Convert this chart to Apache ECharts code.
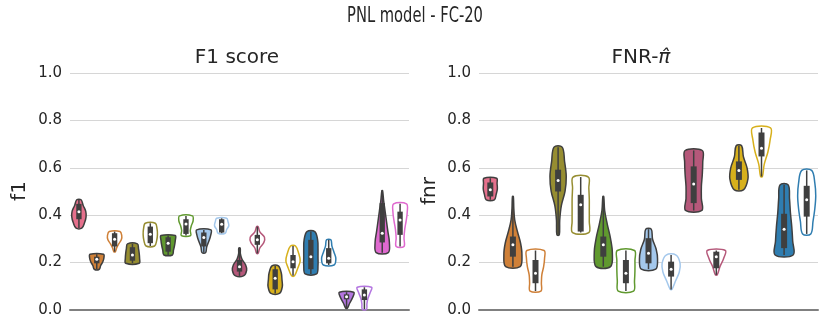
<!DOCTYPE html>
<html>
<head>
<meta charset="utf-8">
<script src="https://cdn.jsdelivr.net/npm/echarts@6/dist/echarts.min.js"></script>
<style>
  html, body { margin: 0; padding: 0; background: #fff; }
  #main { width: 830px; height: 332px; }
</style>
</head>
<body>
<div id="main"></div>
<script>
// violin groups (hue + filled / hollow variant)
const f1Groups = ['pink', 'orange', 'orange', 'olive', 'olive', 'green', 'green', 'lightblue', 'lightblue',
  'mauve', 'mauve', 'gold', 'gold', 'blue', 'blue', 'purple', 'purple', 'magenta', 'magenta'];
const f1Kind = ['full', 'full', 'hollow', 'full', 'hollow', 'full', 'hollow', 'full', 'hollow',
  'full', 'hollow', 'full', 'hollow', 'full', 'hollow', 'full', 'hollow', 'full', 'hollow'];
const f1Min = [0.345, 0.172, 0.246, 0.197, 0.270, 0.232, 0.314, 0.242, 0.324, 0.144, 0.239, 0.070, 0.144, 0.152, 0.190, 0.007, 0.003, 0.242, 0.268];
const f1Q1  = [0.383, 0.197, 0.268, 0.208, 0.282, 0.246, 0.321, 0.268, 0.327, 0.162, 0.275, 0.087, 0.176, 0.172, 0.197, 0.045, 0.042, 0.285, 0.317];
const f1Med = [0.415, 0.214, 0.299, 0.232, 0.320, 0.282, 0.363, 0.306, 0.362, 0.183, 0.296, 0.134, 0.204, 0.225, 0.218, 0.056, 0.063, 0.324, 0.380];
const f1Q3  = [0.448, 0.225, 0.324, 0.265, 0.352, 0.307, 0.383, 0.327, 0.383, 0.211, 0.317, 0.172, 0.232, 0.296, 0.261, 0.066, 0.087, 0.451, 0.415];
const f1Max = [0.465, 0.235, 0.331, 0.279, 0.366, 0.314, 0.397, 0.338, 0.387, 0.261, 0.352, 0.186, 0.270, 0.331, 0.296, 0.075, 0.096, 0.504, 0.448];
// relative density, from min (first) to max (last)
const f1Density = [
  [0.4, 0.8, 1.0, 0.95, 0.6, 0.3],
  [0.35, 0.55, 0.85, 1.0, 0.95],
  [0.1, 0.3, 0.6, 0.95, 1.0, 0.75],
  [0.95, 1.0, 0.95, 0.85, 0.7],
  [0.6, 0.9, 1.0, 0.95, 0.7],
  [0.6, 0.75, 0.9, 1.0, 1.0],
  [0.65, 0.6, 0.75, 1.0, 0.9],
  [0.25, 0.4, 0.7, 0.95, 1.0],
  [0.5, 0.7, 1.0, 0.9, 0.7],
  [0.55, 1.0, 0.85, 0.35, 0.12, 0.1],
  [0.1, 0.35, 0.9, 1.0, 0.35, 0.1],
  [0.6, 1.0, 0.95, 0.85, 0.45],
  [0.2, 0.65, 1.0, 0.8, 0.35],
  [0.8, 1.0, 1.0, 1.0, 0.95, 0.55],
  [0.75, 1.0, 0.75, 0.45, 0.3],
  [0.1, 0.45, 0.85, 1.0],
  [0.3, 0.35, 0.5, 0.8, 1.0],
  [0.85, 1.0, 0.8, 0.6, 0.4, 0.2, 0.05],
  [0.55, 0.55, 0.65, 0.85, 1.0, 0.9]
];

const fnrGroups = ['pink', 'orange', 'orange', 'olive', 'olive', 'green', 'green', 'lightblue', 'lightblue',
  'mauve', 'mauve', 'gold', 'gold', 'blue', 'blue'];
const fnrKind = ['full', 'full', 'hollow', 'full', 'hollow', 'full', 'hollow', 'full', 'hollow',
  'full', 'hollow', 'full', 'hollow', 'full', 'hollow'];
const fnrMin = [0.465, 0.183, 0.080, 0.317, 0.327, 0.183, 0.080, 0.172, 0.087, 0.420, 0.148, 0.507, 0.563, 0.232, 0.321];
const fnrQ1  = [0.479, 0.225, 0.113, 0.500, 0.331, 0.225, 0.113, 0.197, 0.141, 0.451, 0.176, 0.549, 0.648, 0.261, 0.394];
const fnrMed = [0.507, 0.275, 0.155, 0.546, 0.444, 0.275, 0.155, 0.239, 0.172, 0.532, 0.225, 0.589, 0.683, 0.341, 0.465];
const fnrQ3  = [0.538, 0.310, 0.211, 0.592, 0.486, 0.310, 0.211, 0.303, 0.204, 0.606, 0.246, 0.627, 0.749, 0.406, 0.524];
const fnrMax = [0.556, 0.479, 0.251, 0.687, 0.561, 0.479, 0.251, 0.341, 0.232, 0.673, 0.251, 0.693, 0.768, 0.528, 0.589];
const fnrDensity = [
  [0.45, 0.65, 0.78, 0.75, 0.7],
  [0.8, 1.0, 0.85, 0.5, 0.2, 0.1, 0.05],
  [0.6, 0.65, 0.7, 0.9, 1.0, 0.95],
  [0.13, 0.18, 0.36, 0.77, 0.9, 0.72, 0.45],
  [0.9, 0.95, 0.95, 0.95, 0.9, 0.85],
  [0.8, 1.0, 0.8, 0.45, 0.15, 0.05],
  [0.85, 0.95, 1.0, 1.0, 0.95],
  [0.8, 1.0, 0.85, 0.45, 0.3],
  [0.1, 0.5, 0.9, 1.0, 0.55],
  [0.9, 0.85, 0.85, 0.95, 1.0, 0.95],
  [0.1, 0.4, 0.8, 1.0],
  [0.5, 1.0, 0.9, 0.5, 0.3],
  [0.1, 0.3, 0.7, 0.95, 1.0],
  [1.0, 0.95, 0.85, 0.7, 0.6, 0.45],
  [0.45, 0.7, 0.9, 1.0, 0.9, 0.55]
];

const yTicks = [0, 0.2, 0.4, 0.6, 0.8, 1.0];

const hueColor = {
  pink: '#e5708c', orange: '#cf8038', olive: '#968d31', green: '#60992f', lightblue: '#a4c8ec',
  mauve: '#b5587a', gold: '#d7b01c', blue: '#2f7db0', purple: '#b476e0', magenta: '#df69cf'
};
const edge = '#3f3f3f';

function makeData(mn, q1, md, q3, mx) {
  return mn.map((v, i) => [i, v, q1[i], md[i], q3[i], mx[i]]);
}

function violin(density, groups, kind) {
  return function (params, api) {
    const i = params.dataIndex;
    const x = api.coord([api.value(0), 0])[0];
    const band = api.size([1, 0])[0];
    const half = band * 0.4;
    const lo = api.value(1), hi = api.value(5);
    const prof = density[i];
    const n = prof.length;
    const right = [], left = [];
    for (let k = 0; k < n; k++) {
      const v = lo + (hi - lo) * k / (n - 1);
      const y = api.coord([0, v])[1];
      right.push([x + prof[k] * half, y]);
      left.unshift([x - prof[k] * half, y]);
    }
    const col = hueColor[groups[i]];
    const full = kind[i] === 'full';
    const yMin = api.coord([0, lo])[1], yMax = api.coord([0, hi])[1];
    const yQ1 = api.coord([0, api.value(2)])[1], yQ3 = api.coord([0, api.value(4)])[1];
    const yMed = api.coord([0, api.value(3)])[1];
    const bw = Math.min(6, band * 0.3);
    return {
      type: 'group',
      children: [
        {
          type: 'polygon',
          shape: { points: right.concat(left), smooth: 0.35 },
          style: { fill: full ? col : '#ffffff', stroke: full ? edge : col, lineWidth: 1.5 }
        },
        { type: 'line', shape: { x1: x, y1: yMin, x2: x, y2: yMax }, style: { stroke: edge, lineWidth: 1.5 } },
        { type: 'rect', shape: { x: x - bw / 2, y: yQ3, width: bw, height: yQ1 - yQ3 }, style: { fill: edge } },
        { type: 'circle', shape: { cx: x, cy: yMed, r: 1.5 }, style: { fill: '#ffffff' } }
      ]
    };
  };
}

const font = '"DejaVu Sans", sans-serif';

function yAxis(idx) {
  return {
    type: 'value', gridIndex: idx, min: 0, max: 1, interval: 0.2,
    axisLine: { show: false }, axisTick: { show: false },
    axisLabel: {
      color: '#262626', fontSize: 15, fontFamily: font, margin: 8,
      formatter: v => yTicks.includes(Math.round(v * 10) / 10) ? v.toFixed(1) : ''
    },
    splitLine: { lineStyle: { color: '#d6d6d6', width: 1 } }
  };
}

function xAxis(idx, n) {
  return {
    type: 'category', gridIndex: idx, data: Array.from({ length: n }, (_, i) => String(i)),
    axisLabel: { show: false }, axisTick: { show: false },
    axisLine: { lineStyle: { color: '#808080', width: 2 } }
  };
}

const chart = echarts.init(document.getElementById('main'), null, { renderer: 'canvas' });
chart.setOption({
  animation: false,
  backgroundColor: '#ffffff',
  grid: [
    { left: 70, top: 73, width: 339, height: 237 },
    { left: 479, top: 73, width: 339, height: 237 }
  ],
  xAxis: [xAxis(0, f1Min.length), xAxis(1, fnrMin.length)],
  yAxis: [yAxis(0), yAxis(1)],
  graphic: [
    { type: 'text', x: 415, y: 17, scaleX: 0.7, originX: 0, originY: 0, style: { text: 'PNL model - FC-20', fontSize: 21, fontFamily: font, fill: '#262626', align: 'center', verticalAlign: 'middle' } },
    { type: 'text', x: 237, y: 58, style: { text: 'F1 score', fontSize: 20, fontFamily: font, fill: '#262626', align: 'center', verticalAlign: 'middle' } },
    { type: 'text', x: 641, y: 58, style: {
      text: '{a|FNR-}{b|π̂}', fontSize: 20, fontFamily: font, fill: '#262626', align: 'center', verticalAlign: 'middle',
      rich: { a: { fontSize: 20, fontFamily: font, fill: '#262626' }, b: { fontSize: 20, fontFamily: font, fontStyle: 'italic', fill: '#262626' } }
    } },
    { type: 'text', x: 20, y: 191, rotation: Math.PI / 2, style: { text: 'f1', fontSize: 20, fontFamily: font, fill: '#262626', align: 'center', verticalAlign: 'middle' } },
    { type: 'text', x: 430, y: 191, rotation: Math.PI / 2, style: { text: 'fnr', fontSize: 20, fontFamily: font, fill: '#262626', align: 'center', verticalAlign: 'middle' } }
  ],
  series: [
    {
      type: 'custom', xAxisIndex: 0, yAxisIndex: 0,
      renderItem: violin(f1Density, f1Groups, f1Kind),
      data: makeData(f1Min, f1Q1, f1Med, f1Q3, f1Max)
    },
    {
      type: 'custom', xAxisIndex: 1, yAxisIndex: 1,
      renderItem: violin(fnrDensity, fnrGroups, fnrKind),
      data: makeData(fnrMin, fnrQ1, fnrMed, fnrQ3, fnrMax)
    }
  ]
});
</script>
</body>
</html>
